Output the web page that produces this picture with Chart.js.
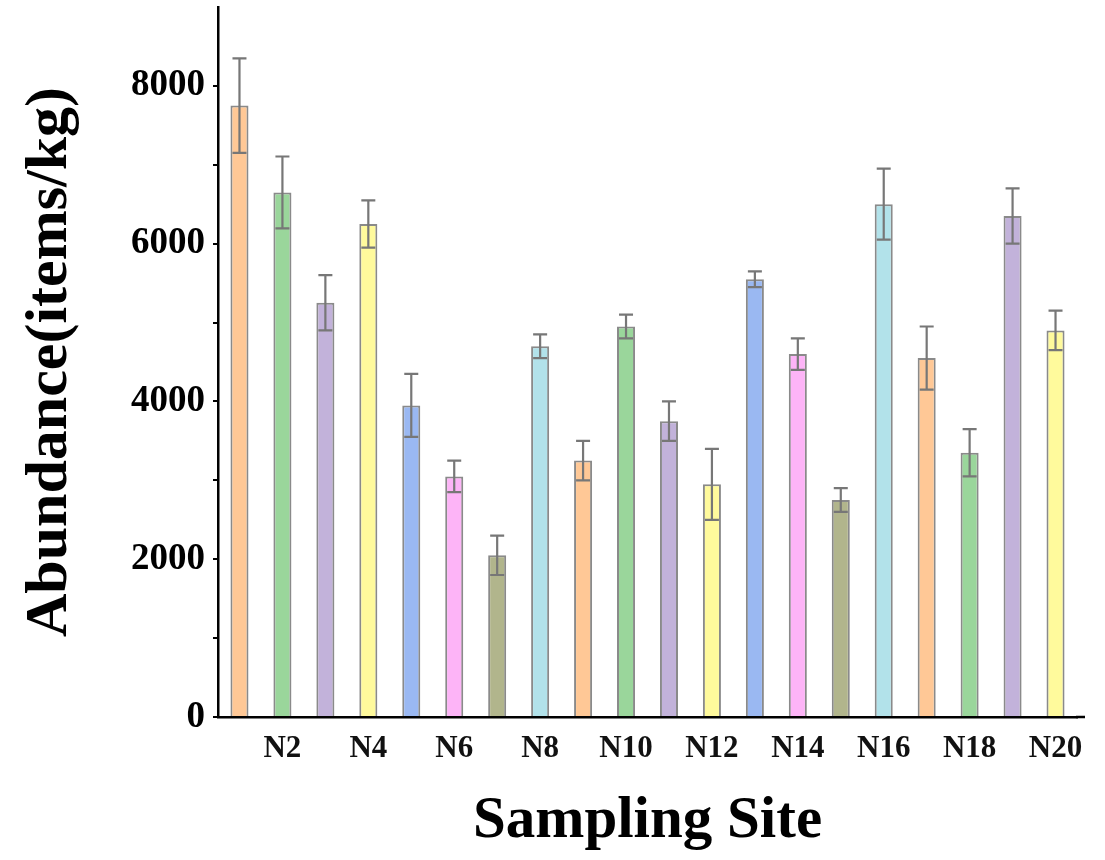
<!DOCTYPE html>
<html>
<head>
<meta charset="utf-8">
<title>Abundance by sampling site</title>
<script src="https://cdn.jsdelivr.net/npm/chart.js@4/dist/chart.umd.min.js"></script>
<style>
  html, body { margin: 0; padding: 0; background: #fff; }
  canvas { display: block; }
</style>
</head>
<body>
<canvas id="siteChart" width="1105" height="860"></canvas>
<script>
// categories and values
const sites = ["N1", "N2", "N3", "N4", "N5", "N6", "N7", "N8", "N9", "N10",
  "N11", "N12", "N13", "N14", "N15", "N16", "N17", "N18", "N19", "N20"];
const abundance = [7750, 6650, 5250, 6250, 3950, 3050, 2050, 4700, 3250, 4950,
  3750, 2950, 5550, 4600, 2750, 6500, 4550, 3350, 6350, 4900];
const errors = [600, 455, 350, 300, 400, 200, 250, 150, 250, 150,
  250, 450, 100, 200, 150, 450, 400, 300, 350, 250];
const shownSiteLabels = ["N2", "N4", "N6", "N8", "N10", "N12", "N14", "N16", "N18", "N20"];
const yTickLabels = [0, 2000, 4000, 6000, 8000];
const palette = ["#FFC896", "#9AD69B", "#C2B2DA", "#FFFA9C",
  "#9AB8F2", "#FDB4F7", "#B1B58C", "#B2E2EA"];

const serif = "'Liberation Serif', 'Times New Roman', serif";

// draws symmetric error bars on top of each bar
const errorBars = {
  id: "errorBars",
  afterDatasetsDraw(chart) {
    const ctx = chart.ctx;
    const yScale = chart.scales.y;
    const meta = chart.getDatasetMeta(0);
    ctx.save();
    ctx.strokeStyle = "#777";
    ctx.lineWidth = 2.2;
    meta.data.forEach((bar, i) => {
      const v = abundance[i];
      const e = errors[i];
      const yHi = yScale.getPixelForValue(v + e);
      const yLo = yScale.getPixelForValue(v - e);
      const x = bar.x;
      ctx.beginPath();
      ctx.moveTo(x, yHi);
      ctx.lineTo(x, yLo);
      ctx.moveTo(x - 7, yHi);
      ctx.lineTo(x + 7, yHi);
      ctx.moveTo(x - 7, yLo);
      ctx.lineTo(x + 7, yLo);
      ctx.stroke();
    });
    // the x axis line runs a little past the last category
    const area = chart.chartArea;
    ctx.strokeStyle = "#000";
    ctx.lineWidth = 2.5;
    ctx.beginPath();
    ctx.moveTo(area.right - 1, area.bottom);
    ctx.lineTo(area.right + 8, area.bottom);
    ctx.stroke();
    ctx.restore();
  }
};

const ctx = document.getElementById("siteChart").getContext("2d");
new Chart(ctx, {
  type: "bar",
  data: {
    labels: sites,
    datasets: [
      {
        label: "Abundance",
        data: abundance,
        backgroundColor: sites.map((s, i) => palette[i % palette.length]),
        borderColor: "#8a8a8a",
        borderWidth: 2,
        barPercentage: 0.42,
        categoryPercentage: 1,
      },
    ],
  },
  options: {
    responsive: false,
    animation: false,
    layout: {
      padding: { top: 7, right: 28, left: 0, bottom: 0 },
    },
    plugins: {
      legend: { display: false },
      tooltip: { enabled: false },
    },
    scales: {
      x: {
        grid: { display: false, drawTicks: false },
        border: { display: true, color: "#000", width: 2.5 },
        ticks: {
          autoSkip: false,
          maxRotation: 0,
          padding: 13,
          color: "#111",
          font: { family: serif, size: 31, weight: "bold" },
          callback: function (value) {
            const name = this.getLabelForValue(value);
            return shownSiteLabels.includes(name) ? name : "";
          },
        },
        title: {
          display: true,
          text: "Sampling Site",
          color: "#000",
          font: { family: serif, size: 59, weight: "bold" },
          padding: { top: 0, bottom: 3 },
        },
        afterFit: (scale) => { scale.height = 143; },
      },
      y: {
        min: 0,
        max: 9000,
        grid: {
          drawOnChartArea: false,
          drawTicks: true,
          tickLength: 5,
          lineWidth: 2,
          color: (c) => (c.tick && c.tick.value === 9000 ? "rgba(0,0,0,0)" : "#000"),
        },
        border: { display: true, color: "#000", width: 2.5 },
        ticks: {
          stepSize: 1000,
          padding: 8,
          color: "#000",
          font: { family: serif, size: 37, weight: "bold" },
          callback: (value) => (yTickLabels.includes(value) ? String(value) : ""),
        },
        title: {
          display: true,
          text: "Abundance(items/kg)",
          color: "#000",
          font: { family: serif, size: 60, weight: "bold" },
          padding: { top: 14, bottom: 0 },
        },
        afterFit: (scale) => {
          scale.width = 218;
          scale.paddingTop = 0;
          scale.paddingBottom = 0;
        },
      },
    },
  },
  plugins: [errorBars],
});
</script>
</body>
</html>
